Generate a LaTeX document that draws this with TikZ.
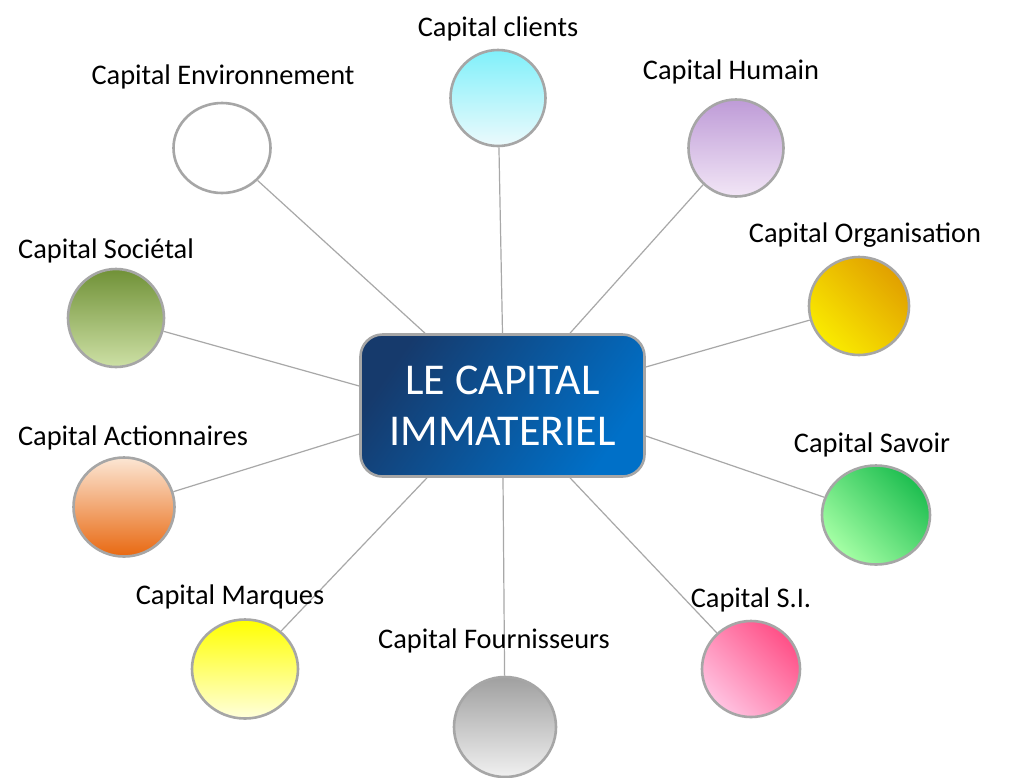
\documentclass[tikz,border=0pt]{standalone}
\usepackage{fontspec}
\setmainfont{Carlito}
\usetikzlibrary{shapes.geometric,backgrounds,calc}
\definecolor{rimgray}{HTML}{A6A6A6}
\definecolor{linegray}{HTML}{A8A8A8}
\begin{document}
\begin{tikzpicture}[x=1pt,y=-1pt,
  circ/.style={ellipse,draw=rimgray,line width=2.6pt,inner sep=0pt},
  lbl/.style={font=\fontsize{28.4}{33}\selectfont,text=black,inner sep=0pt},
  conn/.style={draw=linegray,line width=1.2pt},
  core/.style={rectangle,rounded corners=22pt,draw=rimgray,line width=2.6pt,
    minimum width=284pt,minimum height=142pt,text=white,align=center,
    font=\fontsize{44}{51}\selectfont}
]
\useasboundingbox (0,0) rectangle (1014,777);

\node[core,left color={rgb,255:red,22;green,58;blue,108},right color={rgb,255:red,0;green,112;blue,200},shading angle=55] (box) at (502.5,405.5) {LE CAPITAL\\IMMATERIEL};

% attachment points on the central box
\coordinate (tA) at ($(box.north)+(-77.5,0)$);
\coordinate (tB) at ($(box.north)+(0,0)$);
\coordinate (tC) at ($(box.north)+(67.5,0)$);
\coordinate (bA) at ($(box.south)+(-75.5,0)$);
\coordinate (bB) at ($(box.south)+(0.5,0)$);
\coordinate (bC) at ($(box.south)+(67.5,0)$);
\coordinate (lA) at ($(box.west)+(0,-19.5)$);
\coordinate (lB) at ($(box.west)+(0,28.5)$);
\coordinate (rA) at ($(box.east)+(0,-38.5)$);
\coordinate (rB) at ($(box.east)+(0,30.5)$);

\node[circ,minimum width=97pt,minimum height=90pt,fill=white] (env) at (222,148) {};
\node[circ,minimum width=95pt,minimum height=96pt,top color={rgb,255:red,128;green,240;blue,250},bottom color={rgb,255:red,236;green,250;blue,252}] (cli) at (498,98) {};
\node[circ,minimum width=95pt,minimum height=97pt,top color={rgb,255:red,190;green,155;blue,215},bottom color={rgb,255:red,242;green,230;blue,246}] (hum) at (736,148) {};
\node[circ,minimum width=100pt,minimum height=98pt,shading=axis,left color={rgb,255:red,250;green,235;blue,0},right color={rgb,255:red,225;green,160;blue,0},shading angle=135] (org) at (859,306) {};
\node[circ,minimum width=108pt,minimum height=99pt,shading=axis,left color={rgb,255:red,165;green,255;blue,165},right color={rgb,255:red,30;green,190;blue,80},shading angle=135] (sav) at (876,515) {};
\node[circ,minimum width=98pt,minimum height=96pt,shading=axis,left color={rgb,255:red,255;green,195;blue,225},right color={rgb,255:red,255;green,80;blue,135},shading angle=135] (si) at (751,669) {};
\node[circ,minimum width=102pt,minimum height=100pt,top color={rgb,255:red,160;green,160;blue,160},bottom color={rgb,255:red,240;green,240;blue,240}] (fou) at (505,727) {};
\node[circ,minimum width=106pt,minimum height=99pt,top color={rgb,255:red,255;green,255;blue,0},bottom color={rgb,255:red,255;green,255;blue,220}] (mar) at (245,669) {};
\node[circ,minimum width=101pt,minimum height=99pt,top color={rgb,255:red,252;green,230;blue,212},bottom color={rgb,255:red,232;green,104;blue,16}] (act) at (124,507) {};
\node[circ,minimum width=96pt,minimum height=98pt,top color={rgb,255:red,112;green,145;blue,55},bottom color={rgb,255:red,205;green,224;blue,165}] (soc) at (116,318) {};

\begin{scope}[on background layer]
\fill[white] (0,0) rectangle (1014,777);
\foreach \c/\p in {env/tA,cli/tB,hum/tC,org/rA,sav/rB,si/bC,fou/bB,mar/bA,act/lB,soc/lA}
  \path[conn] (\c) -- (\p);
\end{scope}

\node[lbl] (lcli) at (498,29) {Capital clients};
\node[lbl] (lenv) at (223,77) {Capital Environnement};
\node[lbl] (lhum) at (731,72) {Capital Humain};
\node[lbl] (lorg) at (865,235) {Capital Organisation};
\node[lbl] (lsoc) at (106,251) {Capital Sociétal};
\node[lbl] (lact) at (133,438) {Capital Actionnaires};
\node[lbl] (lsav) at (872,445) {Capital Savoir};
\node[lbl] (lmar) at (230,597) {Capital Marques};
\node[lbl] (lfou) at (494,641) {Capital Fournisseurs};
\node[lbl] (lsi) at (751,600) {Capital S.I.};
\end{tikzpicture}
\end{document}
